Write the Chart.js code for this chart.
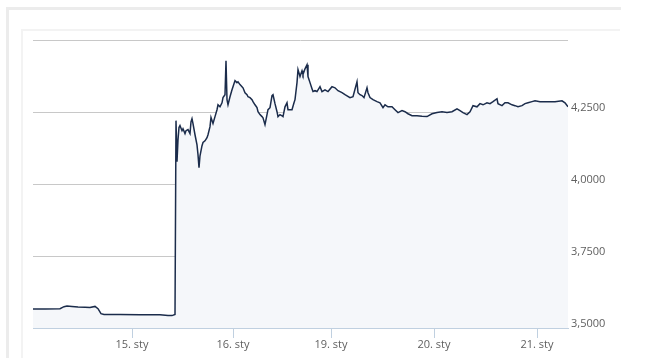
<!DOCTYPE html>
<html>
<head>
<meta charset="utf-8">
<script src="https://cdn.jsdelivr.net/npm/chart.js@4/dist/chart.umd.min.js"></script>
<style>
  html, body { margin: 0; padding: 0; background: #fff; }
  body { width: 645px; height: 358px; position: relative; overflow: hidden; }
  #outer { position: absolute; left: 6px; top: 7px; width: 612px; height: 360px;
           border-top: 3px solid #ececec; border-left: 3px solid #ececec; }
  #inner { position: absolute; left: 21px; top: 29px; width: 597px; height: 340px;
           border-top: 2px solid #f3f3f3; border-left: 2px solid #f3f3f3; }
  #c { position: absolute; left: 0; top: 0; }
</style>
</head>
<body>
<div id="outer"></div>
<div id="inner"></div>
<canvas id="c" width="645" height="358"></canvas>
<script>
// ordinal sample index (trading time position) and CHF/PLN rate
const sampleIdx = [0,12,27,31,34,39,45,52,57,62,65,68,71,87,107,127,135,139,142,143,144,145,146,147,149,150,152,153,155,157,158,159,160,162,164,165,166,167,169,170,172,174,175,177,178,180,182,184,185,187,189,190,192,193,194,195,197,199,200,202,204,205,207,209,210,212,214,215,217,219,220,222,224,225,227,229,230,232,234,235,237,239,240,242,244,245,247,249,250,252,254,255,257,259,261,262,264,265,267,269,270,272,274,275,277,279,280,282,284,287,289,292,295,299,302,305,309,312,317,320,324,325,327,329,331,334,335,337,340,344,347,350,352,355,359,362,365,369,372,375,379,384,389,394,399,404,409,414,419,424,427,430,434,437,440,444,447,450,454,457,460,464,465,469,472,475,479,482,485,489,492,495,499,502,507,512,517,522,529,532,535];
const rate = [3.566,3.566,3.567,3.574,3.576,3.575,3.573,3.572,3.571,3.575,3.567,3.550,3.547,3.547,3.546,3.546,3.543,3.543,3.547,4.220,4.077,4.154,4.196,4.203,4.185,4.192,4.175,4.185,4.189,4.175,4.216,4.227,4.210,4.171,4.136,4.102,4.057,4.098,4.133,4.144,4.150,4.161,4.171,4.199,4.231,4.210,4.234,4.258,4.275,4.268,4.282,4.300,4.310,4.428,4.293,4.275,4.303,4.327,4.338,4.359,4.352,4.355,4.345,4.338,4.334,4.317,4.310,4.303,4.300,4.293,4.286,4.275,4.265,4.251,4.241,4.234,4.230,4.206,4.241,4.258,4.265,4.307,4.310,4.279,4.251,4.234,4.241,4.237,4.234,4.268,4.282,4.258,4.258,4.258,4.282,4.293,4.352,4.397,4.373,4.393,4.380,4.400,4.414,4.373,4.352,4.331,4.321,4.324,4.321,4.338,4.321,4.327,4.321,4.338,4.334,4.324,4.317,4.310,4.300,4.303,4.355,4.317,4.310,4.307,4.300,4.334,4.317,4.300,4.293,4.286,4.282,4.265,4.275,4.268,4.268,4.258,4.248,4.255,4.251,4.244,4.237,4.237,4.235,4.234,4.244,4.248,4.251,4.248,4.251,4.261,4.255,4.248,4.241,4.251,4.272,4.268,4.279,4.275,4.282,4.279,4.286,4.296,4.279,4.272,4.282,4.282,4.275,4.272,4.268,4.272,4.279,4.282,4.286,4.289,4.286,4.286,4.286,4.286,4.289,4.282,4.268];
// day boundaries on the ordinal axis
const tickIdx = [99, 200, 298, 401, 504];
const tickLabels = ['15. sty', '16. sty', '19. sty', '20. sty', '21. sty'];
const yTicks = [3.5, 3.75, 4.0, 4.25, 4.5];

const points = sampleIdx.map((x, i) => ({ x: x, y: rate[i] }));

new Chart(document.getElementById('c'), {
  type: 'line',
  data: {
    datasets: [{
      data: points,
      borderColor: '#1b2c4b',
      borderWidth: 1.5,
      backgroundColor: '#f5f7fa',
      fill: 'start',
      pointRadius: 0,
      tension: 0
    }]
  },
  options: {
    responsive: false,
    animation: false,
    devicePixelRatio: 1,
    layout: { padding: { left: 33, top: 40, right: 0, bottom: 0 } },
    plugins: { legend: { display: false }, tooltip: { enabled: false } },
    scales: {
      x: {
        type: 'linear',
        min: 0,
        max: 535,
        afterBuildTicks: s => { s.ticks = tickIdx.map(v => ({ value: v })); },
        afterFit: s => { s.height = 30; },
        grid: { display: true, drawOnChartArea: false, drawTicks: true, tickLength: 10, tickColor: '#C0D0E0' },
        border: { display: true, color: '#C0D0E0', width: 1 },
        ticks: {
          autoSkip: false, maxRotation: 0, padding: 0,
          color: '#606060',
          font: { family: 'Open Sans', size: 11 },
          callback: v => { const i = tickIdx.indexOf(v); return i >= 0 ? tickLabels[i] : ''; }
        }
      },
      y: {
        position: 'right',
        min: 3.5,
        max: 4.5,
        afterBuildTicks: s => { s.ticks = yTicks.map(v => ({ value: v })); },
        afterFit: s => { s.width = 77; },
        grid: {
          drawTicks: false,
          color: c => (c.tick && c.tick.value === 3.5) ? 'rgba(0,0,0,0)' : '#c8c8c8',
          lineWidth: 1
        },
        border: { display: false },
        ticks: {
          padding: 3,
          labelOffset: -4,
          color: '#606060',
          font: { family: 'Open Sans', size: 11 },
          callback: v => v === 4.5 ? '' : v.toFixed(4).replace('.', ',')
        }
      }
    }
  }
});
</script>
</body>
</html>
